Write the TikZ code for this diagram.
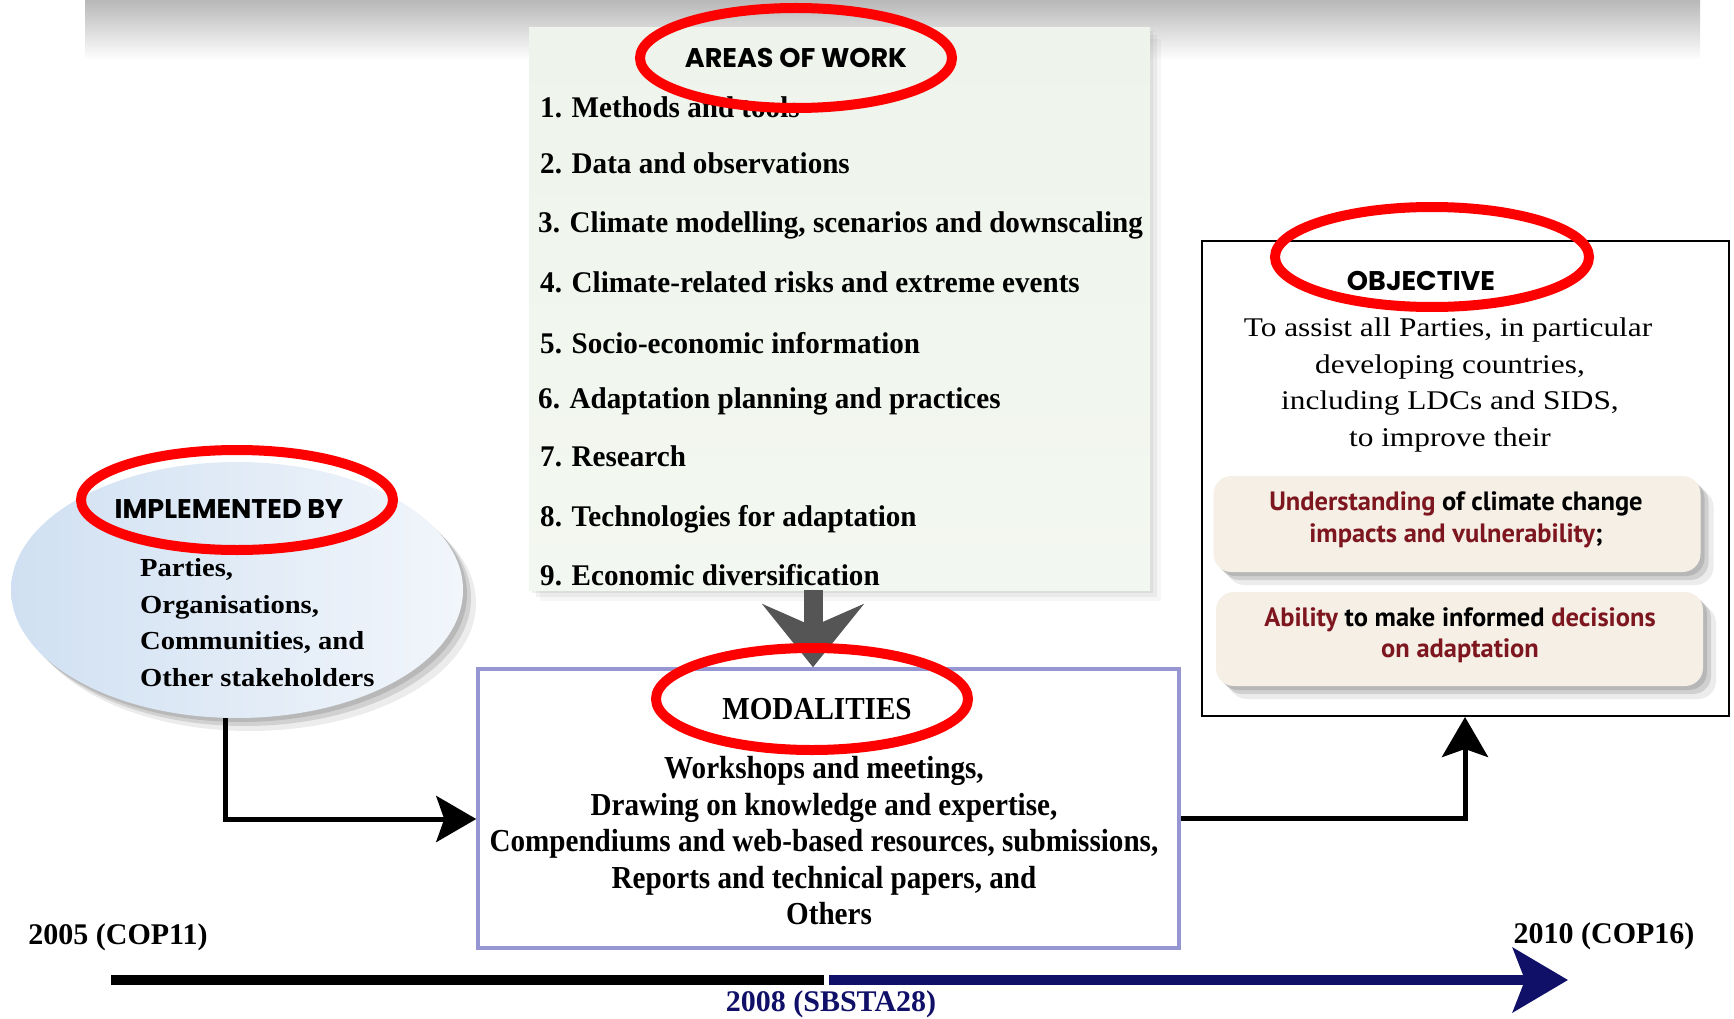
\documentclass[tikz,border=0pt]{standalone}
\usepackage{fontspec}
\setmainfont{Liberation Serif}
\newfontfamily\garb[FakeStretch=0.97]{Liberation Serif}
\newfontfamily\garm[FakeStretch=0.91]{Liberation Serif}
\newfontfamily\garw[FakeStretch=1.1]{Liberation Serif}
\newfontfamily\garo[FakeStretch=1.16]{Liberation Serif}
\newfontfamily\headfont{Poppins}
\newfontfamily\boxfont{PT Sans}
\usetikzlibrary{shapes.geometric,arrows.meta,shadows}
\definecolor{redring}{RGB}{255,0,0}
\definecolor{lav}{RGB}{150,150,210}
\definecolor{darkred}{RGB}{125,22,30}
\definecolor{navy}{RGB}{16,16,104}
\definecolor{areafill}{RGB}{238,244,235}
\definecolor{cream}{RGB}{245,239,230}
\definecolor{arrgray}{RGB}{85,85,85}
\tikzset{
  redell/.style={draw=redring, line width=10pt, ellipse, inner sep=0pt},
  heading/.style={font=\headfont\bfseries\fontsize{27}{30}\selectfont, inner sep=0pt},
  item/.style={anchor=base west, font=\garb\bfseries\fontsize{30}{34}\selectfont, inner sep=0pt},
  modline/.style={anchor=base, font=\garm\bfseries\fontsize{32}{36}\selectfont, inner sep=0pt},
  implline/.style={anchor=base west, font=\garw\bfseries\fontsize{26}{30}\selectfont, inner sep=0pt},
  objline/.style={anchor=base, font=\garo\fontsize{27}{30}\selectfont, inner sep=0pt},
  boxline/.style={anchor=base, font=\boxfont\bfseries\fontsize{26.5}{30}\selectfont, inner sep=0pt},
  tline/.style={font=\bfseries\fontsize{30}{34}\selectfont, inner sep=0pt},
  blackarrow/.style={line width=5pt, -{Stealth[length=40pt,width=46pt,inset=8pt]}},
  softshadow/.style={
    drop shadow={shadow xshift=3pt, shadow yshift=-3pt, opacity=0.12},
    drop shadow={shadow xshift=7pt, shadow yshift=-7pt, opacity=0.10},
    drop shadow={shadow xshift=11pt, shadow yshift=-11pt, opacity=0.07}},
  darkshadow/.style={
    drop shadow={shadow xshift=4pt, shadow yshift=-4pt, opacity=0.30},
    drop shadow={shadow xshift=8pt, shadow yshift=-8pt, opacity=0.25},
    drop shadow={shadow xshift=13pt, shadow yshift=-13pt, opacity=0.15}},
}
\begin{document}
\begin{tikzpicture}[x=1pt,y=-1pt]
\useasboundingbox (0,0) rectangle (1734,1019);
% faint shadow band at top
\shade[top color=black!28, bottom color=white] (85,0) rectangle (1700,60);

% areas of work box
\node[draw=none, top color=areafill, bottom color=areafill!70!white,
      minimum width=621pt, minimum height=562pt, inner sep=0pt, softshadow] (areas) at (839.5,309) {};
\node[item] (i1) at (540,118) {1. Methods and tools};
\node[item] (i2) at (540,174) {2. Data and observations};
\node[item] (i3) at (538,233) {3. Climate modelling, scenarios and downscaling};
\node[item] (i4) at (540,292) {4. Climate-related risks and extreme events};
\node[item] (i5) at (540,353) {5. Socio-economic information};
\node[item] (i6) at (538,408) {6. Adaptation planning and practices};
\node[item] (i7) at (540,466) {7. Research};
\node[item] (i8) at (540,526) {8. Technologies for adaptation};
\node[item] (i9) at (540,585) {9. Economic diversification};

% implemented by ellipse
\node[ellipse, minimum width=452pt, minimum height=256pt, inner sep=0pt,
      left color={rgb,255:red,208;green,224;blue,242}, right color={rgb,255:red,242;green,246;blue,251},
      darkshadow] (impl) at (237,590) {};
\node[implline] (p1) at (140,576) {Parties,};
\node[implline] (p2) at (140,613) {Organisations,};
\node[implline] (p3) at (140,649) {Communities, and};
\node[implline] (p4) at (140,686) {Other stakeholders};

% modalities box
\node[draw=lav, line width=3.5pt, fill=white, minimum width=701pt, minimum height=279pt, inner sep=0pt] (mod) at (828.5,808.5) {};
\node[modline] (mt) at (817,719) {MODALITIES};
\node[modline] (m1) at (824,778) {Workshops and meetings,};
\node[modline] (m2) at (824,815) {Drawing on knowledge and expertise,};
\node[modline] (m3) at (824,851) {Compendiums and web-based resources, submissions,};
\node[modline] (m4) at (824,888) {Reports and technical papers, and};
\node[modline] (m5) at (829,924) {Others};

% objective box
\node[draw=black, line width=2pt, fill=white, minimum width=527pt, minimum height=475pt, inner sep=0pt] (obj) at (1465.5,478.5) {};
\node[heading] (ot) at (1421,281) {OBJECTIVE};
\node[objline] (o1) at (1448,336) {To assist all Parties, in particular};
\node[objline] (o2) at (1450,373) {developing countries,};
\node[objline] (o3) at (1450,409) {including LDCs and SIDS,};
\node[objline] (o4) at (1450,446) {to improve their};
\node[fill=cream, rounded corners=18pt, minimum width=487pt, minimum height=96pt, inner sep=0pt,
      darkshadow] (b1) at (1457,524) {};
\node[boxline] (b1a) at (1456,510) {{\color{darkred}Understanding} of climate change};
\node[boxline] (b1b) at (1456,542) {{\color{darkred}impacts and vulnerability};};
\node[fill=cream, rounded corners=18pt, minimum width=487pt, minimum height=94pt, inner sep=0pt,
      darkshadow] (b2) at (1459.5,639) {};
\node[boxline] (b2a) at (1460,626) {{\color{darkred}Ability} to make informed {\color{darkred}decisions}};
\node[boxline] (b2b) at (1460,657) {\color{darkred}on adaptation};

% arrows
\coordinate (arrx) at (813,0);
\draw[arrgray, line width=19pt, -{Stealth[length=63pt,width=101pt,inset=22pt]}] (areas.south -| arrx) -- (mod.north -| arrx);
\coordinate (lcorner) at (225,819);
\draw[blackarrow] (impl.south -| lcorner) -- (lcorner) -- (mod.west |- lcorner);
\coordinate (rcorner) at (1465,818);
\draw[blackarrow] (mod.east |- rcorner) -- (rcorner) -- (obj.south -| rcorner);

% timeline
\coordinate (t0) at (111,980);
\coordinate (tm) at (824,980);
\coordinate (tm2) at (829,980);
\coordinate (t1) at (1568,980);
\draw[black, line width=10pt] (t0) -- (tm);
\draw[navy, line width=10pt, -{Stealth[length=55pt,width=64pt,inset=12pt]}] (tm2) -- (t1);
\node[tline] (l2005) at (118,937) {2005 (COP11)};
\node[tline] (l2010) at (1604,936) {2010 (COP16)};
\node[tline, text=navy] (l2008) at (831,1004) {2008 (SBSTA28)};

% headings and red rings
\node[heading] (at) at (796,58) {AREAS OF WORK};
\node[heading] (it) at (229,509) {IMPLEMENTED BY};
\node[redell, minimum width=312pt, minimum height=100pt] (r1) at (796,58) {};
\node[redell, minimum width=312pt, minimum height=100pt] (r2) at (237,500) {};
\node[redell, minimum width=312pt, minimum height=102pt] (r3) at (812,699) {};
\node[redell, minimum width=314pt, minimum height=100pt] (r4) at (1432,257) {};
\end{tikzpicture}
\end{document}
